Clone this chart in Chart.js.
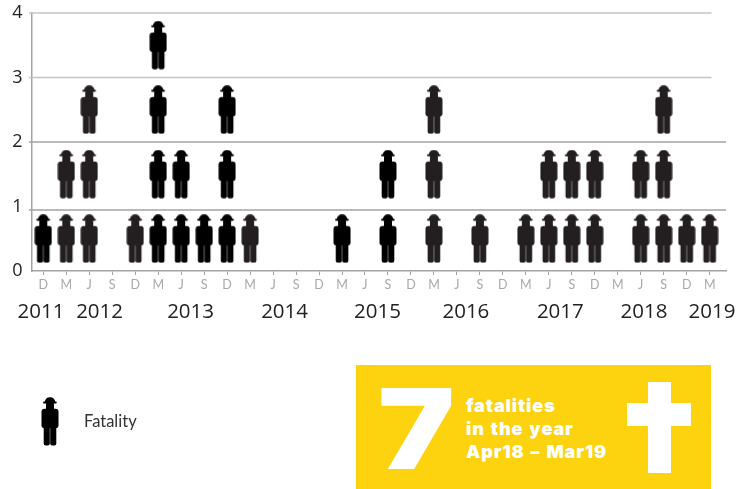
<!DOCTYPE html>
<html>
<head>
<meta charset="utf-8">
<style>
html,body{margin:0;padding:0;background:#fff;width:740px;height:489px;overflow:hidden;}
#wrap{position:relative;width:740px;height:489px;}
canvas#c{position:absolute;left:0;top:0;}
#box{position:absolute;left:356px;top:365px;width:355px;height:124px;background:#fdd20e;overflow:hidden;}
#seven{position:absolute;left:22px;top:-2px;font:900 112px/130px Inter,sans-serif;color:#fff;transform-origin:0 0;transform:scaleX(1.15);}
.ln{position:absolute;left:110px;font:900 18px/22px Inter,sans-serif;letter-spacing:.9px;word-spacing:1.5px;color:#fff;white-space:nowrap;}
.cr{position:absolute;background:#fff;}
#lgimg{position:absolute;left:41px;top:397px;width:18px;height:49px;}
#lgtxt{position:absolute;left:84px;top:411px;font:400 16.5px/20px Lato,sans-serif;color:#333;}
</style>
</head>
<body>
<div id="wrap">
<canvas id="c" width="740" height="489"></canvas>
<img id="lgimg" alt="">
<div id="lgtxt">Fatality</div>
<div id="box">
  <div id="seven">7</div>
  <div class="ln" style="top:30px">fatalities</div>
  <div class="ln" style="top:53px">in the year</div>
  <div class="ln" style="top:76px">Apr18 – Mar19</div>
  <div class="cr" style="left:271px;top:38px;width:64px;height:23px"></div>
  <div class="cr" style="left:292px;top:17px;width:23px;height:91px"></div>
</div>
</div>
<script src="https://cdn.jsdelivr.net/npm/chart.js@4/dist/chart.umd.min.js"></script>
<script>
const categories = ['D','M','J','S','D','M','J','S','D','M','J','S','D','M','J','S','D','M','J','S','D','M','J','S','D','M','J','S','D','M'];
const fatalities = [1,2,3,0,1,4,2,1,3,1,0,0,0,1,0,2,0,3,0,1,0,1,2,2,2,0,2,3,1,1];
const blackColumns = [0,5,6,7,8,13,15];
const yTicks = [0,1,2,3,4];
const yearLabels = ['2011','2012','2013','2014','2015','2016','2017','2018','2019'];
const yearPositions = [-0.1,2.45,6.41,10.5,14.54,18.39,22.5,26.14,29.1];
const gridLevels = [0.945,2,3,4];
const gridEnds = [29.71,29.71,29.08,29.08];
const gridColors = ['#a3a3a3','#a3a3a3','#c4c4c4','#c4c4c4'];
const xMin = -0.513, xMax = 29.71, gridStart = -0.62;

function figure(color){
  const cv = document.createElement('canvas');
  cv.width = 18; cv.height = 49;
  const g = cv.getContext('2d');
  g.translate(9,0.3);
  g.fillStyle = color;
  g.beginPath(); g.roundRect(-5.2,0,10.4,6,[4.8,4.8,0,0]); g.fill();
  g.beginPath(); g.roundRect(-6.9,4.2,13.6,2,0.8); g.fill();
  g.beginPath(); g.roundRect(-4,5,8,8,2); g.fill();
  g.beginPath(); g.roundRect(-8.5,11.4,17,19.6,3); g.fill();
  g.beginPath(); g.roundRect(-6.3,20,6.1,28.3,[0,0,2,2]); g.fill();
  g.beginPath(); g.roundRect(0.2,20,6.1,28.3,[0,0,2,2]); g.fill();
  return cv;
}
const blackFig = figure('#000000'), darkFig = figure('#231f20');
document.getElementById('lgimg').src = blackFig.toDataURL();

function figurePoints(wantBlack){
  const pts = [];
  fatalities.forEach((n,i)=>{
    if (blackColumns.includes(i) !== wantBlack) return;
    for (let k=0;k<n;k++) pts.push({x:i,y:k+0.5});
  });
  return pts;
}
const gridSets = gridLevels.map((v,i)=>({
  label:'grid'+i, showLine:true, order:5, clip:false,
  data:[{x:gridStart,y:v},{x:gridEnds[i],y:v}],
  borderColor:gridColors[i], borderWidth:1.5, pointRadius:0
}));
const figSet = (label,pts,img)=>({label,data:pts,order:1,pointStyle:img,pointRadius:9,showLine:false,clip:false});

const pinPad = s=>{s.paddingLeft=s.paddingRight=s.paddingTop=s.paddingBottom=0;};
new Chart(document.getElementById('c'),{
  type:'scatter',
  data:{datasets:[...gridSets, figSet('Fatality',figurePoints(true),blackFig), figSet('Fatality ',figurePoints(false),darkFig)]},
  options:{
    responsive:false, animation:false, events:[],
    layout:{padding:{top:13,right:14,left:0,bottom:0}},
    plugins:{legend:{display:false},tooltip:{enabled:false}},
    scales:{
      x:{type:'linear',position:'bottom',min:xMin,max:xMax,
        afterBuildTicks:a=>{a.ticks=categories.map((_,i)=>({value:i}));},
        afterFit:s=>{s.height=24;pinPad(s);},
        grid:{drawOnChartArea:false,color:'#a3a3a3',tickLength:4,lineWidth:1},
        border:{color:'#a3a3a3',width:1.5},
        ticks:{autoSkip:false,maxRotation:0,padding:2,color:'#a8a8a8',font:{family:'Lato',size:12.5},callback:v=>categories[v]}
      },
      x2:{type:'linear',position:'bottom',min:xMin,max:xMax,
        afterBuildTicks:a=>{a.ticks=yearPositions.map(v=>({value:v}));},
        afterFit:s=>{s.height=194;pinPad(s);},
        grid:{display:false,drawTicks:false},border:{display:false},
        ticks:{autoSkip:false,maxRotation:0,padding:5,color:'#222',font:{family:'Open Sans',size:20.5,weight:'400'},
          callback:v=>yearLabels[yearPositions.indexOf(v)]}
      },
      y:{type:'linear',min:0,max:4,
        afterBuildTicks:a=>{a.ticks=yTicks.map(v=>({value:v}));},
        afterFit:s=>{s.width=31.5;pinPad(s);},
        grid:{drawOnChartArea:false,drawTicks:false},
        border:{color:'#a3a3a3',width:1.5},
        ticks:{padding:9,color:'#222',font:{family:'Open Sans',size:18,weight:'400'},callback:v=>String(v)}
      }
    }
  }
});
</script>
</body>
</html>
